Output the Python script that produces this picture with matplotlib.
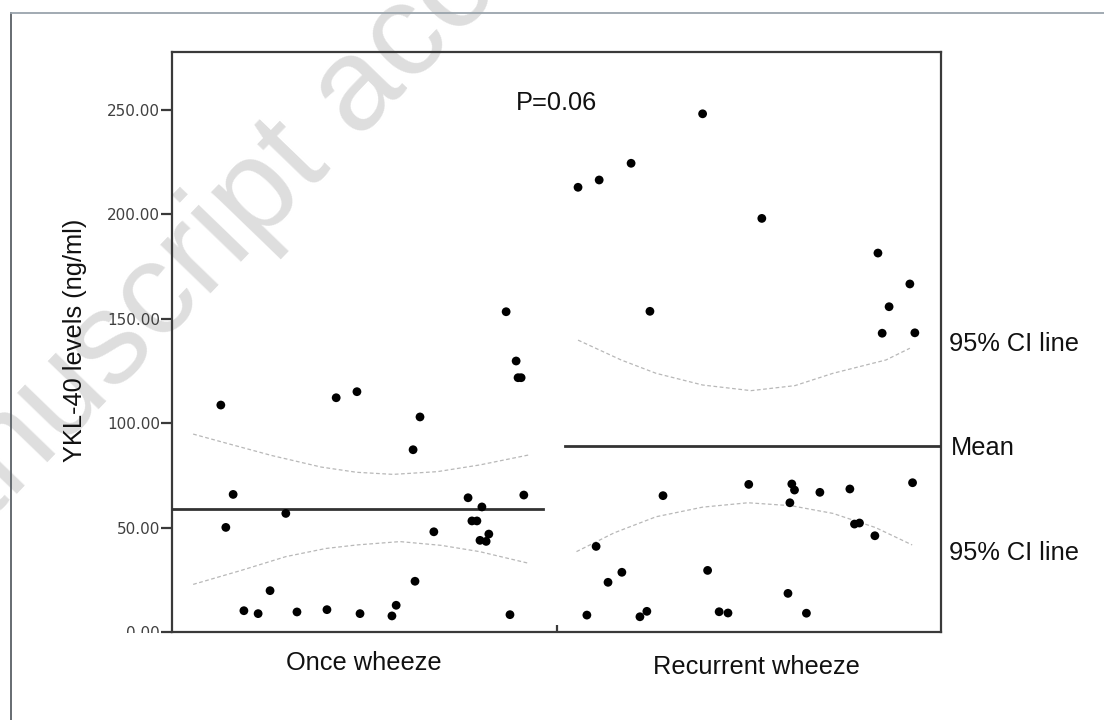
import matplotlib
matplotlib.use("Agg")
import matplotlib.pyplot as plt
from matplotlib.lines import Line2D
from matplotlib.transforms import Bbox

# ---------------- data ----------------
categories = ["Once wheeze", "Recurrent wheeze"]
y_ticks = [0, 50, 100, 150, 200, 250]
y_tick_labels = ["0.00", "50.00", "100.00", "150.00", "200.00", "250.00"]

# jittered x positions (category axis 0..2) and YKL-40 values
once_x = [0.127, 0.159, 0.140, 0.187, 0.224, 0.255, 0.296, 0.325, 0.403, 0.427,
          0.481, 0.489, 0.572, 0.583, 0.627, 0.645, 0.632, 0.681, 0.770, 0.780,
          0.793, 0.806, 0.801, 0.817, 0.824, 0.879, 0.895, 0.900, 0.908, 0.915,
          0.869]
once_y = [108.7, 65.9, 50.1, 10.2, 8.8, 19.8, 56.8, 9.6, 10.7, 112.2,
          115.1, 8.8, 7.7, 12.8, 87.3, 103.0, 24.3, 48.0, 64.3, 53.2,
          53.2, 59.9, 43.9, 43.4, 46.9, 8.3, 129.8, 121.8, 121.8, 65.6,
          153.4]

rec_x = [1.380, 1.056, 1.111, 1.194, 1.534, 1.243, 1.836, 1.919, 1.865, 1.847,
         1.932, 1.277, 1.500, 1.612, 1.619, 1.685, 1.763, 1.926, 1.607, 1.775,
         1.788, 1.828, 1.103, 1.170, 1.134, 1.393, 1.602, 1.079, 1.217, 1.235,
         1.423, 1.446, 1.650]
rec_y = [248.2, 213.0, 216.5, 224.5, 198.1, 153.6, 181.5, 166.7, 155.8, 143.1,
         143.3, 65.3, 70.7, 70.9, 68.0, 66.9, 68.5, 71.5, 61.9, 51.7,
         52.2, 46.1, 41.0, 28.6, 23.8, 29.5, 18.5, 8.1, 7.3, 9.9,
         9.7, 9.1, 9.0]

once_mean = 58.9
rec_mean = 89.0
once_mean_span = [0.0, 0.965]
rec_mean_span = [1.022, 2.0]

# 95% CI curves
once_ci_up_x = [0.055, 0.150, 0.260, 0.388, 0.480, 0.575, 0.690, 0.800, 0.928]
once_ci_up_y = [94.8, 90.0, 84.5, 79.0, 76.5, 75.5, 76.8, 80.0, 84.8]
once_ci_lo_x = [0.055, 0.180, 0.296, 0.400, 0.481, 0.593, 0.700, 0.800, 0.928]
once_ci_lo_y = [22.8, 29.5, 36.1, 40.0, 41.7, 43.3, 41.5, 38.5, 32.9]
rec_ci_up_x = [1.056, 1.168, 1.259, 1.380, 1.506, 1.620, 1.719, 1.857, 1.919]
rec_ci_up_y = [139.8, 130.3, 123.9, 118.3, 115.6, 118.0, 123.9, 130.3, 135.9]
rec_ci_lo_x = [1.052, 1.150, 1.259, 1.380, 1.498, 1.610, 1.719, 1.830, 1.925]
rec_ci_lo_y = [38.5, 47.5, 55.2, 59.8, 61.9, 60.5, 56.8, 50.0, 41.7]

# ---------------- figure ----------------
W, H = 1104, 720
fig = plt.figure(figsize=(W / 100, H / 100), dpi=100)
fig.patch.set_facecolor("white")

def fx(px):
    return px / W

def fy(py):
    return 1 - py / H

# watermark
fig.text(fx(-116), fy(632), "Manuscript accepted", rotation=46,
         rotation_mode="anchor", ha="left", va="baseline",
         fontsize=95, color="#dedede", family="Liberation Sans", zorder=-5)

# outer frame
fig.add_artist(Line2D([fx(11), fx(11)], [0, fy(13)], transform=fig.transFigure,
                      color="#5a6066", lw=1.3))
fig.add_artist(Line2D([fx(11), 1], [fy(13), fy(13)], transform=fig.transFigure,
                      color="#9aa4ac", lw=1.3))

ax = fig.add_axes([fx(172), fy(632), fx(941) - fx(172), fy(52) - fy(632)])
ax.patch.set_alpha(0)
ax.set_xlim(0, 2)
ax.set_ylim(0, 277.8)

spine_c = "#3a3a3a"
for s in ax.spines.values():
    s.set_color(spine_c)
    s.set_linewidth(1.6)

ax.set_yticks(y_ticks)
ax.set_yticklabels(y_tick_labels, family="DejaVu Sans", fontsize=11, color="#404040")
ax.tick_params(axis="y", length=8, width=1.6, color=spine_c, pad=0.5)
ax.set_xticks([1.0])
ax.set_xticklabels([""])
ax.tick_params(axis="x", direction="in", length=5, width=1.6, color=spine_c)

# clip the 0.00 label as in the reference (only its top shows)
zero_lab = ax.yaxis.get_majorticklabels()[0]
zero_lab.set_clip_on(True)
zero_lab.set_clip_box(Bbox.from_extents(0, H - 633, W, H))

# CI lines
ci_kw = dict(color="#b8b8b8", lw=0.9, ls=(0, (3, 2)), zorder=2)
ax.plot(once_ci_up_x, once_ci_up_y, **ci_kw)
ax.plot(once_ci_lo_x, once_ci_lo_y, **ci_kw)
ax.plot(rec_ci_up_x, rec_ci_up_y, **ci_kw)
ax.plot(rec_ci_lo_x, rec_ci_lo_y, **ci_kw)

# mean lines
ax.plot(once_mean_span, [once_mean, once_mean], color="#333333", lw=2.0, zorder=3)
ax.plot(rec_mean_span, [rec_mean, rec_mean], color="#333333", lw=2.0, zorder=3)

# points
ax.scatter(once_x, once_y, s=40, color="black", edgecolors="none", zorder=4)
ax.scatter(rec_x, rec_y, s=40, color="black", edgecolors="none", zorder=4)

tfont = dict(family="Liberation Sans", fontsize=18.3, color="#111111")

# category labels
fig.text(fx(364), fy(670), categories[0], ha="center", va="baseline", **tfont)
fig.text(fx(756), fy(674), categories[1], ha="center", va="baseline", **tfont)

# y label
fig.text(fx(75), fy(340), "YKL-40 levels (ng/ml)", rotation=90,
         ha="center", va="center", **tfont)

# annotations
fig.text(fx(516), fy(109.5), "P=0.06", ha="left", va="baseline", **tfont)
fig.text(fx(949), fy(351), "95% CI line", ha="left", va="baseline", **tfont)
fig.text(fx(951), fy(455), "Mean", ha="left", va="baseline", **tfont)
fig.text(fx(949), fy(560), "95% CI line", ha="left", va="baseline", **tfont)

fig.savefig("out.png", dpi=100)
